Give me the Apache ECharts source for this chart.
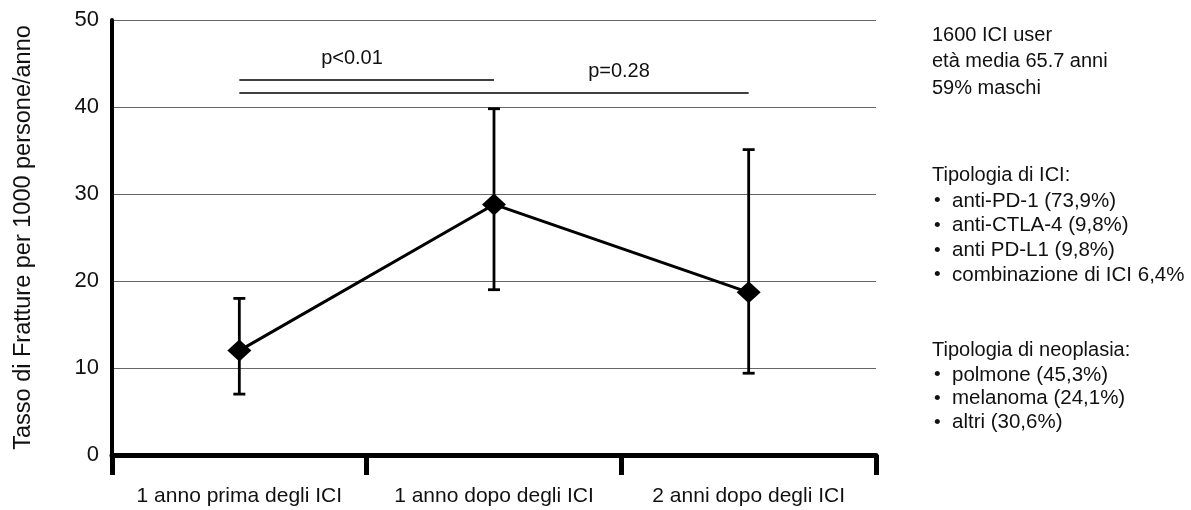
<!DOCTYPE html>
<html><head><meta charset="utf-8">
<script src="https://cdn.jsdelivr.net/npm/echarts@6/dist/echarts.min.js"></script>
<style>html,body{margin:0;padding:0;background:#fff}#c{width:1191px;height:510px}</style>
</head><body><div id="c"></div>
<script>
const categories = ['1 anno prima degli ICI', '1 anno dopo degli ICI', '2 anni dopo degli ICI'];
const rates = [12, 28.8, 18.7];
const lowerCI = [7, 19, 9.4];
const upperCI = [18, 39.8, 35.1];
const yTicks = [0, 10, 20, 30, 40, 50];
const brackets = [
  { from: 0, to: 1, y: 43.1 },
  { from: 0, to: 2, y: 41.6 }
];
const pLabels = ['p<0.01', 'p=0.28'];
const infoLines = ['1600 ICI user', 'età media 65.7 anni', '59% maschi'];
const iciTitle = 'Tipologia di ICI:';
const iciItems = ['anti-PD-1 (73,9%)', 'anti-CTLA-4 (9,8%)', 'anti PD-L1 (9,8%)', 'combinazione di ICI 6,4%'];
const neoTitle = 'Tipologia di neoplasia:';
const neoItems = ['polmone (45,3%)', 'melanoma (24,1%)', 'altri (30,6%)'];

const FONT = 'Liberation Sans, Arial, Helvetica, sans-serif';
const chart = echarts.init(document.getElementById('c'));

const graphics = [];
const txt = (x, y, s, size, align) => graphics.push({
  type: 'text', x: x, y: y,
  style: { text: s, fill: '#111', font: size + 'px ' + FONT, textAlign: align || 'left', textVerticalAlign: 'middle' }
});
const infoY = [35, 61.5, 88];
infoLines.forEach((s, i) => txt(932, infoY[i], s, 20));
txt(932, 175, iciTitle, 20);
iciItems.forEach((s, i) => { txt(934, 201 + i * 24.7, '•', 19); txt(952, 201 + i * 24.7, s, 20.5); });
txt(932, 350, neoTitle, 20);
neoItems.forEach((s, i) => { txt(934, 375 + i * 23.7, '•', 19); txt(952, 375 + i * 23.7, s, 20.5); });
txt(352, 58, pLabels[0], 20, 'center');
txt(619, 71, pLabels[1], 20, 'center');

chart.setOption({
  animation: false,
  grid: { left: 112, right: 315, top: 20, bottom: 55 },
  xAxis: {
    type: 'category', data: categories, boundaryGap: true,
    axisLine: { lineStyle: { color: '#000', width: 5 } },
    axisTick: { show: true, interval: 0, length: 20, lineStyle: { color: '#000', width: 5 } },
    axisLabel: { interval: 0, hideOverlap: false, color: '#111', fontSize: 21, fontFamily: FONT, margin: 31 }
  },
  yAxis: {
    type: 'value', min: yTicks[0], max: yTicks[yTicks.length - 1], interval: 10,
    name: 'Tasso di Fratture per 1000 persone/anno', nameLocation: 'middle', nameGap: 76, nameRotate: 90,
    nameTextStyle: { color: '#111', fontSize: 23.5, fontFamily: FONT },
    axisLine: { show: true, lineStyle: { color: '#000', width: 4 } },
    axisTick: { show: false },
    axisLabel: { color: '#111', fontSize: 22, fontFamily: FONT, margin: 13 },
    splitLine: { lineStyle: { color: '#666', width: 1.2 } }
  },
  series: [
    {
      type: 'custom', z: 2,
      data: categories.map((c, i) => [i, lowerCI[i], upperCI[i]]),
      renderItem: function (params, api) {
        const x = api.value(0);
        const lo = api.coord([x, api.value(1)]);
        const hi = api.coord([x, api.value(2)]);
        const w = 6;
        const st = { stroke: '#000', lineWidth: 2.8 };
        return { type: 'group', children: [
          { type: 'line', shape: { x1: lo[0], y1: lo[1], x2: hi[0], y2: hi[1] }, style: st },
          { type: 'line', shape: { x1: lo[0] - w, y1: lo[1], x2: lo[0] + w, y2: lo[1] }, style: st },
          { type: 'line', shape: { x1: hi[0] - w, y1: hi[1], x2: hi[0] + w, y2: hi[1] }, style: st }
        ]};
      }
    },
    {
      type: 'line', z: 3, data: rates,
      symbol: 'diamond', symbolSize: [24, 22],
      lineStyle: { color: '#000', width: 3 },
      itemStyle: { color: '#000' },
      markLine: {
        silent: true, symbol: 'none', label: { show: false },
        lineStyle: { color: '#000', width: 1.5, type: 'solid' },
        data: brackets.map(b => [{ coord: [b.from, b.y] }, { coord: [b.to, b.y] }])
      }
    }
  ],
  graphic: graphics
});
</script></body></html>
